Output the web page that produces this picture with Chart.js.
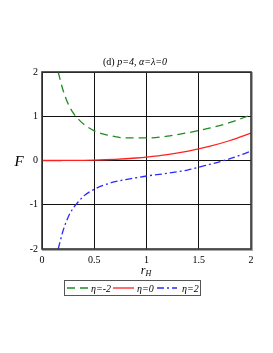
<!DOCTYPE html>
<html>
<head>
<meta charset="utf-8">
<script src="https://cdn.jsdelivr.net/npm/chart.js@4/dist/chart.umd.min.js"></script>
<style>
  html, body { margin: 0; padding: 0; background: #fff; }
  #wrap { width: 273px; height: 353px; position: relative; }
</style>
</head>
<body>
<div id="wrap"><canvas id="chart"></canvas></div>
<script>
// values
const rH = [0, 0.1, 0.155, 0.2, 0.25, 0.3, 0.35, 0.4, 0.5, 0.6, 0.7, 0.8, 0.9, 1.0, 1.2, 1.4, 1.6, 1.8, 2.0];
const etaMinus2 = [null, null, 2.0, 1.6, 1.28, 1.07, 0.93, 0.82, 0.67, 0.59, 0.54, 0.51, 0.51, 0.51, 0.55, 0.63, 0.73, 0.86, 1.03];
const eta0 = [0, 0, 0, 0.001, 0.001, 0.002, 0.003, 0.005, 0.01, 0.017, 0.027, 0.04, 0.057, 0.078, 0.134, 0.213, 0.318, 0.452, 0.62];
const eta2 = [null, null, -2.0, -1.6, -1.28, -1.07, -0.93, -0.8, -0.65, -0.55, -0.48, -0.43, -0.39, -0.35, -0.29, -0.21, -0.09, 0.04, 0.21];
const seriesLabels = ['η=-2', 'η=0', 'η=2'];
const xTicks = [0, 0.5, 1, 1.5, 2];
const yTicks = [-2, -1, 0, 1, 2];

const SERIF = "'Liberation Serif', 'DejaVu Serif', serif";

function points(ys) {
  return rH.map((x, i) => ({ x, y: ys[i] })).filter(p => p.y !== null);
}

const styles = [
  { color: '#1e8c1e', dash: [8, 5] },
  { color: '#ff2020', dash: [] },
  { color: '#2a2aff', dash: [7, 3, 2, 3] },
];

const data = {
  datasets: [etaMinus2, eta0, eta2].map((ys, i) => ({
    label: seriesLabels[i],
    data: points(ys),
    borderColor: styles[i].color,
    borderDash: styles[i].dash,
    borderWidth: 1.3,
    pointRadius: 0,
    fill: false,
    cubicInterpolationMode: 'monotone',
  })),
};

const decorations = {
  id: 'decorations',
  afterDraw(chart) {
    const { ctx, chartArea: a } = chart;
    ctx.save();
    // frame
    ctx.strokeStyle = '#a8a8a8';
    ctx.lineWidth = 2;
    ctx.beginPath();
    ctx.moveTo(a.right + 1, a.top);
    ctx.lineTo(a.right + 1, a.bottom + 1);
    ctx.lineTo(a.left, a.bottom + 1);
    ctx.stroke();
    ctx.strokeStyle = '#333';
    ctx.lineWidth = 1.6;
    ctx.strokeRect(a.left, a.top, a.right - a.left, a.bottom - a.top);

    ctx.fillStyle = '#000';
    ctx.textBaseline = 'middle';
    // title with mixed fonts
    const parts = [
      ['(d) ', `10px ${SERIF}`],
      ['p=4, α=λ=0', `italic 10px ${SERIF}`],
    ];
    let total = 0;
    parts.forEach(([t, f]) => { ctx.font = f; total += ctx.measureText(t).width; });
    let x = 135 - total / 2;
    ctx.textAlign = 'left';
    parts.forEach(([t, f]) => { ctx.font = f; ctx.fillText(t, x, 62); x += ctx.measureText(t).width; });

    // y label
    ctx.font = `italic 15px ${SERIF}`;
    ctx.textAlign = 'center';
    ctx.fillText('F', 19, 162);

    // x label r_H
    ctx.font = `italic 12px ${SERIF}`;
    ctx.textAlign = 'left';
    const rw = ctx.measureText('r').width;
    ctx.font = `italic 8px ${SERIF}`;
    const hw = ctx.measureText('H').width;
    const sx = 146 - (rw + hw) / 2;
    ctx.font = `italic 12px ${SERIF}`;
    ctx.fillText('r', sx, 271);
    ctx.font = `italic 8px ${SERIF}`;
    ctx.fillText('H', sx + rw, 274);

    // legend box
    ctx.strokeStyle = '#555';
    ctx.lineWidth = 1;
    ctx.strokeRect(64.5, 280.5, 136, 15);
    const ly = 288;
    const items = [
      { x0: 67, x1: 88, tx: 91 },
      { x0: 113, x1: 134, tx: 137 },
      { x0: 157, x1: 177, tx: 182 },
    ];
    items.forEach((it, i) => {
      ctx.strokeStyle = styles[i].color;
      ctx.setLineDash(styles[i].dash);
      ctx.lineWidth = 1.3;
      ctx.beginPath();
      ctx.moveTo(it.x0, ly);
      ctx.lineTo(it.x1, ly);
      ctx.stroke();
      ctx.setLineDash([]);
      ctx.font = `italic 10px ${SERIF}`;
      ctx.fillStyle = '#000';
      ctx.fillText(seriesLabels[i], it.tx, ly + 1);
    });
    ctx.restore();
  },
};

new Chart(document.getElementById('chart'), {
  type: 'line',
  data,
  options: {
    responsive: true,
    maintainAspectRatio: false,
    animation: false,
    layout: { padding: { left: 0, right: 22, top: 72, bottom: 84 } },
    plugins: { legend: { display: false }, title: { display: false }, tooltip: { enabled: false } },
    scales: {
      x: {
        type: 'linear',
        min: 0,
        max: 2,
        afterBuildTicks(scale) { scale.ticks = xTicks.map(v => ({ value: v })); },
        afterFit(scale) { scale.height = 20; },
        grid: { color: '#111', lineWidth: 1, drawTicks: false },
        border: { display: false },
        ticks: {
          color: '#000', font: { family: SERIF, size: 10 }, padding: 5, maxRotation: 0,
          callback: v => String(v),
        },
      },
      y: {
        min: -2,
        max: 2,
        afterBuildTicks(scale) { scale.ticks = yTicks.map(v => ({ value: v })); },
        afterFit(scale) { scale.width = 42; },
        grid: { color: '#111', lineWidth: 1, drawTicks: false },
        border: { display: false },
        ticks: { color: '#000', font: { family: SERIF, size: 10 }, padding: 4, callback: v => String(v) },
      },
    },
  },
  plugins: [decorations],
});
</script>
</body>
</html>
